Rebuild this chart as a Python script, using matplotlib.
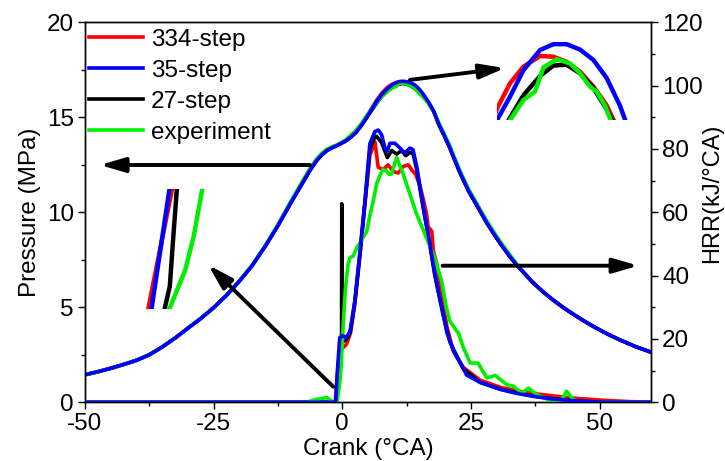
import matplotlib
matplotlib.use("Agg")
import matplotlib.pyplot as plt
from matplotlib.ticker import MultipleLocator

plt.rcParams['font.family'] = ['Liberation Sans', 'DejaVu Sans']
plt.rcParams['axes.unicode_minus'] = False

# ---------------- data ----------------
labels = ["334-step", "35-step", "27-step", "experiment"]
colors = ["#ff0000", "#0000ff", "#000000", "#00ee00"]

# Pressure (MPa) for the model mechanisms
crank_p = [-50, -47.5, -45, -42.5, -40, -37.5, -35, -32.5, -30, -27.5,
           -25, -22.5, -20, -17.5, -15, -12.5, -10, -7.5, -6.3, -5,
           -4, -3, -2, -1, 0.62, 1.63, 2.64, 3.65, 4.66, 5.67,
           6.68, 7.69, 8.60, 9.21, 9.89, 10.73, 11.40, 12.07, 12.75, 13.43,
           14.09, 14.77, 15.28, 15.78, 16.79, 17.80, 18.81, 19.8, 20.83, 21.8,
           22.86, 24.5, 26.3, 28.1, 29.5, 31, 32.5, 34, 35.5, 37,
           39, 41, 43, 45, 47, 49, 51.5, 54, 57, 60]
p_35 = [1.45, 1.61, 1.79, 1.99, 2.21, 2.50, 2.91, 3.38, 3.90, 4.41,
        4.98, 5.63, 6.37, 7.2, 8.2, 9.3, 10.5, 11.65, 12.2, 12.72,
        13.02, 13.25, 13.4, 13.52, 13.75, 13.95, 14.2, 14.55, 14.95, 15.4,
        15.85, 16.2, 16.467, 16.591, 16.744, 16.859, 16.893, 16.893, 16.862, 16.802,
        16.70, 16.54, 16.38, 16.2, 15.8, 15.3, 14.6, 14.05, 13.45, 12.8,
        12.1, 11.15, 10.3, 9.44, 8.85, 8.25, 7.7, 7.2, 6.76, 6.32,
        5.82, 5.38, 4.98, 4.62, 4.28, 3.96, 3.6, 3.28, 2.93, 2.64]
p_334 = [1.45, 1.61, 1.79, 1.99, 2.21, 2.50, 2.91, 3.38, 3.90, 4.41,
         4.98, 5.63, 6.37, 7.2, 8.2, 9.3, 10.5, 11.65, 12.2, 12.72,
         13.02, 13.25, 13.4, 13.52, 13.75, 13.95, 14.2, 14.55, 14.95, 15.45,
         15.9, 16.28, 16.534, 16.668, 16.764, 16.825, 16.821, 16.792, 16.735, 16.649,
         16.543, 16.38, 16.25, 16.1, 15.75, 15.3, 14.6, 14.05, 13.45, 12.8,
         12.1, 11.15, 10.3, 9.44, 8.85, 8.25, 7.7, 7.2, 6.76, 6.32,
         5.82, 5.38, 4.98, 4.62, 4.28, 3.96, 3.6, 3.28, 2.93, 2.64]
p_27 = [1.45, 1.61, 1.79, 1.99, 2.21, 2.50, 2.91, 3.38, 3.90, 4.41,
        4.98, 5.63, 6.37, 7.2, 8.2, 9.3, 10.5, 11.65, 12.2, 12.72,
        13.02, 13.25, 13.4, 13.52, 13.75, 13.95, 14.2, 14.55, 14.95, 15.35,
        15.75, 16.1, 16.35, 16.47, 16.60, 16.71, 16.77, 16.775, 16.725, 16.64,
        16.52, 16.36, 16.22, 16.1, 15.75, 15.3, 14.6, 14.05, 13.45, 12.8,
        12.1, 11.15, 10.3, 9.44, 8.85, 8.25, 7.7, 7.2, 6.76, 6.32,
        5.82, 5.38, 4.98, 4.62, 4.28, 3.96, 3.6, 3.28, 2.93, 2.64]

# Experimental pressure (MPa)
crank_p_exp = [-50, -47.5, -45, -42.5, -40, -37.5, -35, -32.5, -30, -27.5,
               -25, -22.5, -20, -17.5, -15, -12.5, -10, -7.5, -6.3, -5,
               -4, -3, -2, -1, 0.62, 1.63, 2.64, 3.65, 4.66, 5.67,
               6.68, 7.69, 8.60, 9.21, 9.89, 10.47, 10.90, 11.57, 12.24, 12.75,
               13.25, 13.59, 14.01, 14.26, 14.77, 15.78, 16.79, 17.80, 18.81, 19.8,
               20.83, 21.8, 22.86, 24.5, 26.3, 28.1, 29.5, 31, 32.5, 34]
p_exp = [1.45, 1.61, 1.79, 1.99, 2.21, 2.50, 2.91, 3.38, 3.90, 4.41,
         4.98, 5.63, 6.37, 7.22, 8.23, 9.35, 10.58, 11.75, 12.3, 12.8,
         13.1, 13.32, 13.45, 13.55, 13.8, 14.05, 14.3, 14.65, 15.05, 15.45,
         15.8, 16.1, 16.3, 16.457, 16.572, 16.62, 16.76, 16.806, 16.783, 16.726,
         16.65, 16.62, 16.54, 16.47, 16.3, 16.05, 15.7, 15.3, 14.7, 14.15,
         13.55, 12.9, 12.2, 11.25, 10.4, 9.55, 8.95, 8.35, 7.8, 7.25]

# Heat release rate (kJ/°CA)
crank_h_35 = [-50, -1.29, -1.215, -0.86, -0.49, 0.11, 0.82, 1.53, 2.44, 3.45,
              4.41, 5.37, 6.35, 6.99, 7.65, 8.30, 8.76, 9.27, 10.22, 11.23,
              12.14, 13.15, 13.76, 14.47, 15.78, 17.04, 18.0, 18.81, 19.62, 20.33,
              20.94, 21.84, 23.46, 24.17, 26.8, 30.64, 33.97, 37.11, 41.05, 44.89,
              48.12, 51.16, 60]
hrr_35 = [0, 0, 2.08, 11.9, 20.4, 21, 20.5, 22.5, 32, 47.8,
          63.6, 81.7, 85.5, 86, 84.5, 80.3, 79.3, 81.8, 81.8, 80.3,
          78.7, 80.3, 79.8, 74.5, 61.5, 50, 40.5, 34, 27.9, 22,
          19.3, 15.5, 10.9, 8.6, 6.3, 4.1, 2.8, 1.9, 1.0, 0.5,
          0.2, 0, 0]

crank_h_334 = [-50, -1.35, -1.28, -0.81, -0.39, 0.32, 0.82, 1.63, 2.44, 3.45,
               4.41, 5.37, 6.35, 6.99, 8.0, 8.91, 9.92, 10.88, 11.84, 12.85,
               13.46, 14.26, 15.07, 15.78, 16.39, 16.69, 17.40, 17.70, 18.31, 19.02,
               20.33, 21.54, 23.56, 26.8, 30.64, 33.97, 37.0, 41.05, 45.09, 51.16,
               56.21, 60]
hrr_334 = [0, 0, 2.08, 11.9, 16.5, 17.5, 18.3, 22, 31, 46.5,
           62.5, 78, 82.3, 74.2, 73.5, 75, 72.9, 72.4, 74.5, 75,
           73.5, 72, 68.5, 64, 59.5, 55.5, 54, 48, 44, 37,
           24, 16.3, 11, 7, 4.8, 3.6, 2.8, 2.0, 1.3, 0.6,
           0.2, 0]

crank_h_27 = [-50, -1.05, -0.95, -0.85, -0.78, -0.71, -0.39, -0.14, -0.09, -0.04,
              0.32, 0.82, 1.53, 2.44, 3.45, 4.41, 5.37, 6.35, 6.68, 7.65,
              8.76, 9.62, 10.58, 11.54, 12.34, 13.15, 13.76, 14.47, 15.78, 17.04,
              18.0, 19.62, 20.94, 23.46, 26.8, 30.64, 37.0, 41.05, 45.09, 49.13,
              51.16, 60]
hrr_27 = [0, 0, 2.08, 3.9, 8.0, 11.9, 17, 18.5, 62.7, 18.7,
          19.5, 19.8, 22, 31.5, 47, 63, 80, 84, 84, 82,
          77.3, 79.5, 78.4, 79.5, 77.9, 78.9, 78.5, 73.5, 61, 49.5,
          40, 27.5, 19, 10.7, 6.3, 4.2, 2.0, 1.1, 0.5, 0.1,
          0, 0]

crank_h_exp = [-50, -6.96, -5.34, -3.02, -2.21, -1.60, -1.05, -0.85, -0.54, -0.37,
               -0.20, 0.22, 0.62, 1.13, 1.53, 2.14, 2.84, 3.85, 4.76, 5.37,
               6.03, 6.68, 7.29, 7.90, 8.60, 9.11, 9.62, 10.12, 10.58, 11.13,
               11.84, 13.15, 14.47, 16.08, 17.70, 19.32, 20.23, 20.94, 22.25, 22.55,
               23.56, 24.88, 26.39, 28.11, 29.73, 31.95, 33.27, 34.88, 36.2, 37.81,
               39.53, 41.05, 42.56, 43.58, 44.89, 46.1, 60]
hrr_exp = [0, 0, 0.8, 1.5, 0.6, 0, 0, 2.08, 5.25, 8.03,
           11.9, 25.6, 36, 43.6, 45.7, 46.2, 48.8, 51.5, 54, 59,
           63.6, 69, 71.5, 73.5, 73.1, 72, 72.1, 75, 77.3, 75,
           72.1, 65.7, 59.4, 53, 46.8, 38.3, 30, 25.6, 22.5, 22,
           17.2, 12.4, 12.4, 7.7, 8.5, 5.6, 5.1, 2.9, 4.5, 2.4,
           1.2, 0.3, 0.5, 3.5, 0.9, 0, 0]

x_ticks = [-50, -25, 0, 25, 50]
p_ticks = [0, 5, 10, 15, 20]
h_ticks = [0, 20, 40, 60, 80, 100, 120]

# ---------------- figure ----------------
FS = 17.5
LW = 2.6
fig = plt.figure(figsize=(7.25, 4.61), dpi=100)
ax = fig.add_axes([0.1172, 0.1273, 0.7807, 0.8243])
ax2 = ax.twinx()

p_series = [(crank_p, p_334), (crank_p, p_35), (crank_p, p_27), (crank_p_exp, p_exp)]
h_series = [(crank_h_334, hrr_334), (crank_h_35, hrr_35), (crank_h_27, hrr_27), (crank_h_exp, hrr_exp)]
zorders = [2, 5, 3, 4]

handles = []
for (xs, ys), c, lab, z in zip(p_series, colors, labels, zorders):
    ln, = ax.plot(xs, ys, color=c, lw=LW, label=lab, zorder=z)
    handles.append(ln)
for (xs, ys), c, z in zip(h_series, colors, zorders):
    ax2.plot(xs, ys, color=c, lw=LW, zorder=z)

ax.set_xlim(-50, 60)
ax.set_ylim(0, 20)
ax2.set_ylim(0, 120)
ax.set_xticks(x_ticks)
ax.set_yticks(p_ticks)
ax2.set_yticks(h_ticks)
ax.xaxis.set_minor_locator(MultipleLocator(12.5))
ax.yaxis.set_minor_locator(MultipleLocator(2.5))
ax2.yaxis.set_minor_locator(MultipleLocator(10))

for a in (ax, ax2):
    a.tick_params(which='major', direction='out', length=5, width=1.0, labelsize=FS, pad=3)
    a.tick_params(which='minor', direction='out', length=3, width=1.0)
    for s in a.spines.values():
        s.set_linewidth(1.0)

ax.set_xlabel("Crank (°CA)", fontsize=FS, labelpad=1.5)
ax.set_ylabel("Pressure (MPa)", fontsize=FS, labelpad=4)
ax2.set_ylabel("HRR(kJ/°CA)", fontsize=17)
ax2.yaxis.set_label_coords(1.088, 0.55)

ax2.legend(handles, labels, loc='upper left', bbox_to_anchor=(-0.005, 1), frameon=False,
           fontsize=FS, handlelength=2.25, handletextpad=0.3, labelspacing=0.37,
           borderaxespad=0, borderpad=0.27)

# ---------------- arrows ----------------
arrow_kw = dict(arrowstyle='-|>,head_length=0.75,head_width=0.22', lw=2.8, color='k',
                mutation_scale=20, shrinkA=0, shrinkB=0)
arrows = [((-6.28, 12.49), (-47.1, 12.49)),
          ((13.16, 16.97), (31.62, 17.59)),
          ((19.51, 7.19), (57.53, 7.19)),
          ((-1.75, 0.82), (-26.04, 7.23))]
for tail, head in arrows:
    ax2.annotate("", xy=head, xytext=tail, xycoords=ax.transData,
                 textcoords=ax.transData, arrowprops=arrow_kw, zorder=10)

# ---------------- insets ----------------
ins1 = fig.add_axes([497 / 725, 1 - 120 / 461, 135 / 725, 80 / 461])
for (xs, ys), c, z in zip(p_series, colors, zorders):
    ins1.plot(xs, ys, color=c, lw=LW + 0.6, zorder=z)
ins1.set_xlim(8.55, 15.38)
ins1.set_ylim(16.457, 16.917)
ins1.axis('off')

ins2 = fig.add_axes([140 / 725, 1 - 309 / 461, 75 / 725, 120 / 461])
for (xs, ys), c, z in zip(h_series, colors, zorders):
    ins2.plot(xs, ys, color=c, lw=LW + 0.6, zorder=z)
ins2.set_xlim(-1.45, 0.06)
ins2.set_ylim(2, 12)
ins2.axis('off')

fig.savefig("out.png", dpi=100)
